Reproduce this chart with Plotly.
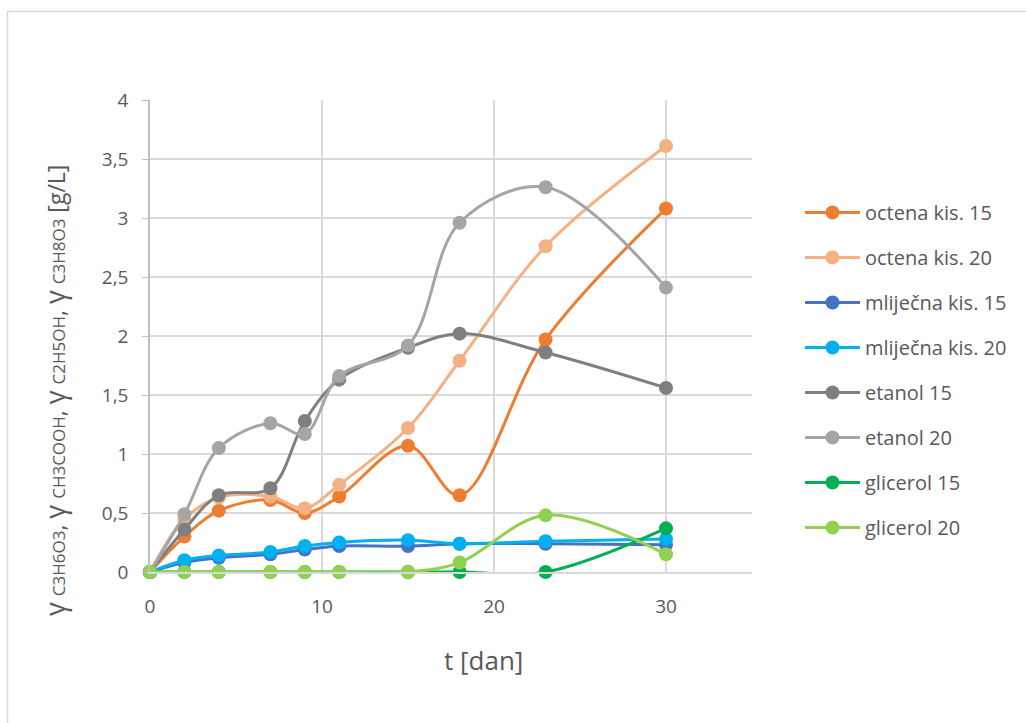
import plotly.graph_objects as go

days = [0, 2, 4, 7, 9, 11, 15, 18, 23, 30]

octena_15 = [0, 0.30, 0.52, 0.61, 0.50, 0.64, 1.07, 0.65, 1.97, 3.08]
octena_20 = [0, 0.45, 0.63, 0.64, 0.54, 0.74, 1.22, 1.79, 2.76, 3.61]
mlijecna_15 = [0, 0.08, 0.12, 0.15, 0.19, 0.22, 0.22, 0.24, 0.24, 0.23]
mlijecna_20 = [0, 0.10, 0.14, 0.17, 0.22, 0.25, 0.27, 0.24, 0.26, 0.28]
etanol_15 = [0, 0.36, 0.65, 0.71, 1.28, 1.63, 1.90, 2.02, 1.86, 1.56]
etanol_20 = [0, 0.49, 1.05, 1.26, 1.17, 1.66, 1.92, 2.96, 3.26, 2.41]
glicerol_15 = [0, 0, 0, 0, 0, 0, 0, 0, 0, 0.37]
glicerol_20 = [0, 0, 0, 0, 0, 0, 0, 0.08, 0.48, 0.15]

series = [
    ("octena kis. 15", octena_15, "#ED7D31"),
    ("octena kis. 20", octena_20, "#F4B183"),
    ("mliječna kis. 15", mlijecna_15, "#4472C4"),
    ("mliječna kis. 20", mlijecna_20, "#00B0F0"),
    ("etanol 15", etanol_15, "#7F7F7F"),
    ("etanol 20", etanol_20, "#A5A5A5"),
    ("glicerol 15", glicerol_15, "#00B050"),
    ("glicerol 20", glicerol_20, "#92D050"),
]

fig = go.Figure()
for i, (name, vals, col) in enumerate(series):
    fig.add_trace(go.Scatter(
        x=days, y=vals, name=name, mode="lines+markers",
        line=dict(color=col, width=3, shape="spline", smoothing=1),
        marker=dict(color=col, size=14),
        legendgroup=f"g{i}",
        cliponaxis=False,
    ))

W, H = 1026, 723
L, R, T, B = 150, 752, 100, 572
font_family = "'Open Sans', 'Noto Sans', sans-serif"

def px2x(p):
    return (p - L) / (R - L)

def px2y(p):
    return (B - p) / (B - T)

g = "<span style='font-size:27px'>γ</span>"
sub = "<span style='font-size:17px'>"
ytitle = (f"{g} {sub}C3H6O3</span>, {g} {sub}CH3COOH</span>, "
          f"{g} {sub}C2H5OH</span>, {g} {sub}C3H8O3</span> [g/L]")

fig.update_layout(
    width=W, height=H,
    margin=dict(l=L, r=W - R, t=T, b=H - B, pad=0, autoexpand=False),
    paper_bgcolor="white", plot_bgcolor="white",
    separators=", ",
    font=dict(family=font_family, size=19, color="#595959"),
    showlegend=True,
    legend=dict(
        x=px2x(800), y=px2y(193), xanchor="left", yanchor="top",
        font=dict(size=20, color="#595959"),
        tracegroupgap=16, itemwidth=55,
        bgcolor="rgba(0,0,0,0)",
    ),
    xaxis=dict(
        range=[0, 35], tickvals=[0, 10, 20, 30],
        showgrid=True, gridcolor="#D9D9D9", gridwidth=1.5,
        showline=True, linecolor="#D9D9D9", linewidth=1.5,
        zeroline=False, ticks="", tickfont=dict(size=19, color="#595959"),
        ticklabelstandoff=16,
        fixedrange=True,
    ),
    yaxis=dict(
        range=[0, 4], dtick=0.5,
        showgrid=True, gridcolor="#D9D9D9", gridwidth=1.5,
        showline=True, linecolor="#BFBFBF", linewidth=1.5,
        zeroline=False, ticks="outside", ticklen=6, tickcolor="#BFBFBF",
        tickfont=dict(size=19, color="#595959"), ticklabelstandoff=10,
        fixedrange=True,
    ),
    shapes=[dict(
        type="rect", xref="paper", yref="paper",
        x0=px2x(7.5), x1=px2x(1040), y0=px2y(740), y1=px2y(11.5),
        line=dict(color="#D9D9D9", width=1.5), fillcolor="rgba(0,0,0,0)",
        layer="below",
    )],
    annotations=[
        dict(text=ytitle, xref="paper", yref="paper", x=px2x(54), y=px2y(391),
             xanchor="center", yanchor="middle", textangle=-90, showarrow=False,
             font=dict(size=23, color="#595959", family=font_family)),
        dict(text="t [dan]", xref="paper", yref="paper", x=px2x(483), y=px2y(660),
             xanchor="center", yanchor="middle", showarrow=False,
             font=dict(size=26, color="#595959", family=font_family)),
    ],
)

fig.write_html("out.html", config={"displayModeBar": False},
               post_script="document.body.style.margin='0';")
